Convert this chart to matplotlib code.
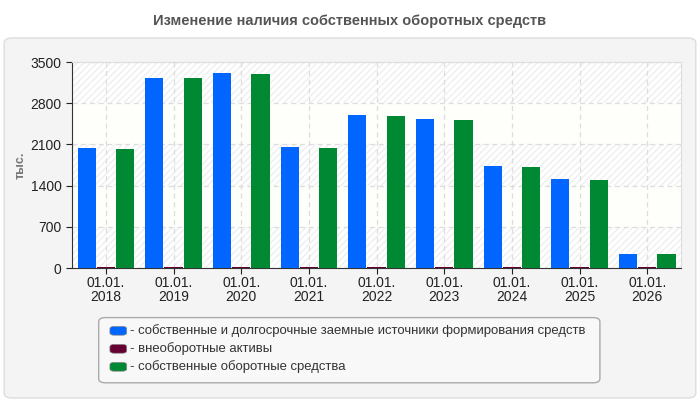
import matplotlib
matplotlib.use("Agg")
import matplotlib.pyplot as plt
import numpy as np
from matplotlib.patches import FancyBboxPatch, Rectangle

years = ["2018", "2019", "2020", "2021", "2022", "2023", "2024", "2025", "2026"]
labels = ["01.01.\n" + y for y in years]
own_long = [2040, 3230, 3310, 2050, 2600, 2530, 1730, 1510, 240]
non_current = [20, 20, 20, 20, 20, 20, 20, 20, 20]
own_working = [2030, 3220, 3300, 2040, 2590, 2520, 1720, 1500, 230]
series_names = [
    "собственные и долгосрочные заемные источники формирования средств",
    "внеоборотные активы",
    "собственные оборотные средства",
]
colors = ["#0066ff", "#660033", "#008833"]
yticks = [0, 700, 1400, 2100, 2800, 3500]

plt.rcParams["font.family"] = ["Liberation Sans", "DejaVu Sans"]

fig = plt.figure(figsize=(7, 4), dpi=100)
fig.patch.set_facecolor("white")

# outer panel
panel = FancyBboxPatch((0.006, 0.005), 0.988, 0.9, boxstyle="round,pad=0,rounding_size=0.012",
                       transform=fig.transFigure, facecolor="#f4f4f4", edgecolor="#dddddd", lw=1,
                       zorder=-5)
fig.patches.append(panel)

fig.text(0.5, 0.948, "Изменение наличия собственных оборотных средств", ha="center", va="center",
         fontsize=10.5, fontweight="bold", color="#555555")

ax = fig.add_axes([0.103, 0.33, 0.87, 0.515])
ax.set_zorder(2)
ax.set_facecolor("white")

# alternating bands
for i in range(len(yticks) - 1):
    if i % 2 == 0:
        ax.add_patch(Rectangle((-0.5, yticks[i]), len(years), yticks[i + 1] - yticks[i],
                               facecolor="white", edgecolor="#efefef", hatch="/////", lw=0, zorder=0))
    else:
        ax.add_patch(Rectangle((-0.5, yticks[i]), len(years), yticks[i + 1] - yticks[i],
                               facecolor="#fefefa", edgecolor="none", lw=0, zorder=0))

x = np.arange(len(years))
w = 0.27
step = 0.285
for k, vals in enumerate([own_long, non_current, own_working]):
    ax.bar(x + (k - 1) * step, vals, width=w, color=colors[k], zorder=3)

ax.set_xlim(-0.5, len(years) - 0.5)
ax.set_ylim(0, 3500)
ax.set_yticks(yticks)
ax.set_xticks(x)
ax.set_xticklabels(labels, fontsize=10, color="#222222", linespacing=0.95)
ax.tick_params(axis="y", labelsize=10, colors="#222222", length=4)
ax.tick_params(axis="x", length=4, colors="#222222", pad=2)
ax.grid(True, color="#dddddd", linestyle=(0, (4, 3)), lw=0.9, zorder=1)
ax.set_axisbelow(True)
for s in ["top", "right"]:
    ax.spines[s].set_color("#dddddd")
for s in ["left", "bottom"]:
    ax.spines[s].set_color("#333333")

ax.set_ylabel("тыс.", fontsize=9, fontweight="bold", color="#777777", labelpad=3)

# legend box
lg = FancyBboxPatch((0.141, 0.043), 0.716, 0.163, boxstyle="round,pad=0,rounding_size=0.01",
                    transform=fig.transFigure, facecolor="#f8f8f8", edgecolor="#aaaaaa", lw=1)
fig.patches.append(lg)
for k, name in enumerate(series_names):
    yy = 0.173 - k * 0.045
    fig.patches.append(FancyBboxPatch((0.157, yy - 0.011), 0.024, 0.022,
                                      boxstyle="round,pad=0,rounding_size=0.006",
                                      transform=fig.transFigure, facecolor=colors[k],
                                      edgecolor="#888888", lw=0.5))
    fig.text(0.186, yy, "- " + name, va="center", ha="left", fontsize=9.45, color="#333333")

fig.savefig("out.png", dpi=100, facecolor=fig.get_facecolor())
